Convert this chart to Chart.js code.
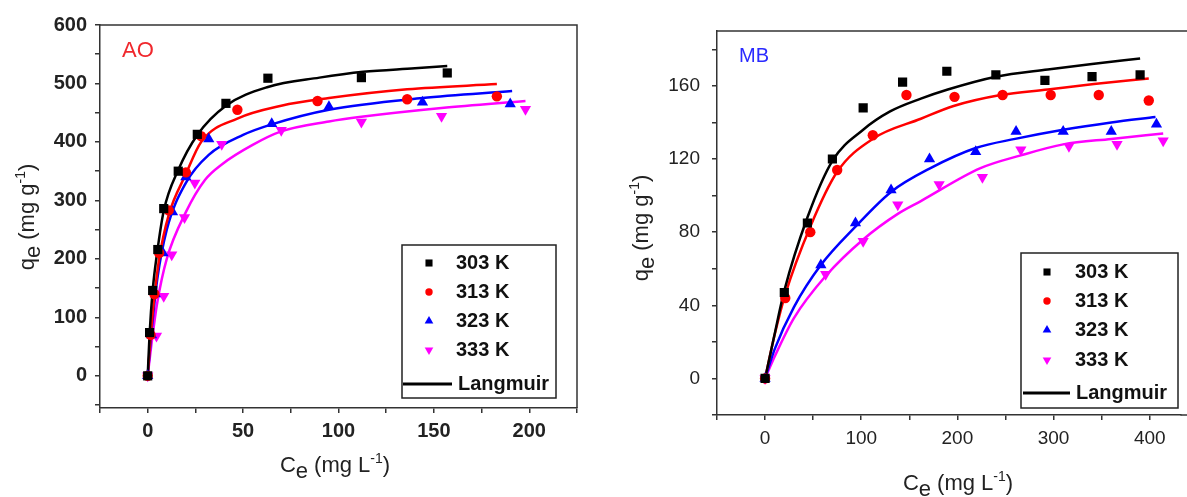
<!DOCTYPE html>
<html lang="en">
  <head>
    <meta charset="UTF-8" />
    <title>Langmuir isotherms - AO and MB</title>
    <script src="https://cdn.jsdelivr.net/npm/chart.js"></script>
    <style>
      body { margin: 0; background: #fff; }
      .wrap { position: relative; width: 1187px; height: 497px; overflow: hidden; }
      .wrap canvas { position: absolute; top: 0; }
    </style>
  </head>
  <body>
    <div class="wrap">
      <canvas id="chartAO" width="590" height="497" style="left: 0"></canvas>
      <canvas id="chartMB" width="597" height="497" style="left: 590px"></canvas>
    </div>

    <script>
      const temps = ["303 K", "313 K", "323 K", "333 K"];

      // AO: measured points [Ce, qe]
      const aoPts303 = [[0, 0], [1, 74], [2.6, 146], [5.3, 216], [8.4, 286], [16, 350], [26, 413], [41, 466], [63, 509], [112, 510], [157, 518]];
      const aoPts313 = [[0, 0], [1.5, 70], [3.5, 140], [6, 210], [11, 283], [20, 348], [28, 410], [47, 455], [89, 470], [136, 473], [183, 478]];
      const aoPts323 = [[0, 0], [2, 70], [4, 140], [8, 210], [13, 280], [20, 340], [32, 405], [65, 431], [95, 460], [144, 468], [190, 465]];
      const aoPts333 = [[0, 0], [4.6, 68], [8.4, 136], [12.6, 207], [19.3, 271], [24.7, 330], [38.8, 396], [70, 420], [112, 434], [154, 444], [198, 456]];
      // AO: Langmuir curves
      const aoFit303 = [[0, 0], [1, 72], [2.6, 146], [5, 212], [8.4, 282], [16, 352], [26, 412], [41, 462], [63, 494], [90, 510], [113, 520], [140, 526], [157, 530]];
      const aoFit313 = [[0, 0], [1.5, 65], [3.5, 135], [6, 200], [11, 275], [20, 345], [28, 400], [47, 440], [70, 462], [95, 475], [136, 490], [183, 499]];
      const aoFit323 = [[0, 0], [2, 75], [5, 165], [10, 250], [20, 330], [32, 378], [50, 412], [65, 430], [95, 455], [144, 475], [191, 487]];
      const aoFit333 = [[0, 0], [2, 55], [5, 125], [10, 200], [20, 280], [30, 335], [39, 362], [55, 395], [70, 418], [95, 435], [112, 443], [154, 458], [198, 470]];

      // MB: measured points
      const mbPts303 = [[0, 0], [20, 47], [44, 85], [70, 120], [102, 148], [143, 162], [189, 168], [240, 166], [291, 163], [340, 165], [390, 166]];
      const mbPts313 = [[0, 0], [21, 44], [47, 80], [75, 114], [112, 133], [147, 155], [197, 154], [247, 155], [297, 155], [347, 155], [399, 152]];
      const mbPts323 = [[0, 0], [58, 62], [94, 85], [131, 103], [171, 120], [219, 124], [261, 135], [310, 135], [360, 135], [407, 139]];
      const mbPts333 = [[0, 0], [63, 57], [102, 75], [138, 95], [181, 106], [226, 110], [266, 125], [316, 127], [366, 128], [414, 130]];
      // MB: Langmuir curves
      const mbFit303 = [[0, 0], [9, 22], [20, 48], [44, 88], [70, 119], [102, 136], [130, 146], [162, 153], [190, 158], [240, 165], [294, 169], [340, 172], [390, 175]];
      const mbFit313 = [[0, 0], [10, 24], [21, 46], [47, 83], [75, 113], [112, 131], [162, 142], [196, 149], [245, 155], [294, 158], [342, 161], [399, 164]];
      const mbFit323 = [[0, 0], [10, 16], [30, 39], [58, 62], [94, 83], [131, 102], [172, 115], [219, 126], [260, 131], [310, 136], [360, 140], [406, 143]];
      const mbFit333 = [[0, 0], [10, 12], [30, 33], [63, 56], [102, 76], [138, 90], [162, 97], [224, 115], [266, 122], [310, 128], [360, 131], [414, 134]];

      const colors = ["#000000", "#ff0000", "#0000ff", "#ff00ff"];
      const marks = ["rect", "circle", "triangle", "triangle"];
      const markRot = [0, 0, 0, 180];
      const markSize = [6.5, 5.2, 6.5, 6.5];
      const FONT = "'Liberation Sans', Arial, sans-serif";

      function buildSets(pts, fits) {
        const sets = [];
        temps.forEach((t, i) => {
          sets.push({
            label: t,
            data: pts[i].map(([x, y]) => ({ x, y })),
            pointStyle: marks[i],
            rotation: markRot[i],
            pointRadius: markSize[i],
            backgroundColor: colors[i],
            borderColor: colors[i],
            borderWidth: 0,
            showLine: false,
            order: 1,
          });
          sets.push({
            label: t + " Langmuir",
            data: fits[i].map(([x, y]) => ({ x, y })),
            showLine: true,
            borderColor: colors[i],
            borderWidth: 2.5,
            pointRadius: 0,
            cubicInterpolationMode: "monotone",
            order: 2,
          });
        });
        return sets;
      }

      // text with subscript / superscript pieces
      function drawRich(ctx, parts, x, y, angle) {
        ctx.save();
        ctx.translate(x, y);
        ctx.rotate(angle);
        ctx.textAlign = "left";
        ctx.textBaseline = "alphabetic";
        let w = 0;
        parts.forEach((p) => {
          ctx.font = p.font;
          w += ctx.measureText(p.t).width;
        });
        let cx = -w / 2;
        parts.forEach((p) => {
          ctx.font = p.font;
          ctx.fillText(p.t, cx, p.dy || 0);
          cx += ctx.measureText(p.t).width;
        });
        ctx.restore();
      }

      const big = "22px " + FONT;
      const small = "14px " + FONT;
      const qTitle = [
        { t: "q", font: big },
        { t: "e", font: big, dy: 6 },
        { t: " (mg g", font: big },
        { t: "-1", font: small, dy: -9 },
        { t: ")", font: big },
      ];
      const cTitle = [
        { t: "C", font: big },
        { t: "e", font: big, dy: 6 },
        { t: " (mg L", font: big },
        { t: "-1", font: small, dy: -9 },
        { t: ")", font: big },
      ];

      const framePlugin = {
        id: "frame",
        afterDraw(chart, args, o) {
          const { ctx, chartArea: a } = chart;
          ctx.save();
          ctx.strokeStyle = "#333";
          ctx.lineWidth = 1.5;
          ctx.beginPath();
          ctx.moveTo(a.left, a.top);
          ctx.lineTo(o.openRight ? chart.width : a.right, a.top);
          if (!o.openRight) ctx.lineTo(a.right, a.bottom);
          ctx.stroke();
          if (o.openRight) {
            ctx.beginPath();
            ctx.moveTo(a.right, a.bottom);
            ctx.lineTo(chart.width, a.bottom);
            ctx.stroke();
          }

          ctx.fillStyle = o.tagColor;
          ctx.font = o.tagFont;
          ctx.textBaseline = "alphabetic";
          ctx.fillText(o.tag, o.tagX, o.tagY);

          ctx.fillStyle = "#222";
          drawRich(ctx, qTitle, o.yTitle[0], o.yTitle[1], -Math.PI / 2);
          drawRich(ctx, cTitle, o.xTitle[0], o.xTitle[1], 0);

          // legend box
          const L = o.legend;
          ctx.fillStyle = "#fff";
          ctx.fillRect(L.x, L.y, L.w, L.h);
          ctx.strokeStyle = "#222";
          ctx.lineWidth = 1.5;
          ctx.strokeRect(L.x, L.y, L.w, L.h);
          ctx.font = "bold 20px " + FONT;
          ctx.textBaseline = "middle";
          temps.forEach((t, i) => {
            ctx.fillStyle = colors[i];
            Chart.helpers.drawPoint(ctx, { pointStyle: marks[i], rotation: markRot[i], radius: markSize[i] - 1.5, borderWidth: 0 }, L.markX, L.rows[i]);
            ctx.fillStyle = "#111";
            ctx.fillText(t, L.textX, L.rows[i]);
          });
          ctx.strokeStyle = "#000";
          ctx.lineWidth = 3;
          ctx.beginPath();
          ctx.moveTo(L.lineX[0], L.lineY);
          ctx.lineTo(L.lineX[1], L.lineY);
          ctx.stroke();
          ctx.fillStyle = "#111";
          ctx.fillText("Langmuir", L.langX, L.lineY);
          ctx.restore();
        },
      };

      function axis(min, max, step, labelEvery, size, fixed, tickFont, pad) {
        return {
          type: "linear",
          min: min,
          max: max,
          grid: { display: true, drawOnChartArea: false, drawTicks: true, tickLength: 5, color: "#333", lineWidth: 1.5 },
          border: { display: true, color: "#333", width: 1.5 },
          ticks: {
            stepSize: step,
            includeBounds: false,
            padding: pad,
            color: "#222",
            font: tickFont,
            callback: (v) => (Math.abs(v % labelEvery) < 1e-9 ? v : ""),
          },
          afterFit: (s) => {
            if (size === "w") s.width = fixed;
            else s.height = fixed;
          },
        };
      }

      const baseOpts = {
        responsive: false,
        animation: false,
        events: [],
        plugins: { legend: { display: false }, tooltip: { enabled: false } },
      };

      new Chart(document.getElementById("chartAO"), {
        type: "scatter",
        data: { datasets: buildSets([aoPts303, aoPts313, aoPts323, aoPts333], [aoFit303, aoFit313, aoFit323, aoFit333]) },
        options: {
          ...baseOpts,
          layout: { padding: { top: 25, right: 13, left: 0, bottom: 0 } },
          scales: {
            x: axis(-25, 225, 25, 50, "h", 89, { family: FONT, size: 20, weight: "bold" }, 6),
            y: axis(-55, 600, 50, 100, "w", 100, { family: FONT, size: 20, weight: "bold" }, 8),
          },
          plugins: {
            ...baseOpts.plugins,
            frame: {
              tag: "AO", tagColor: "#f0282d", tagFont: "22px " + FONT, tagX: 122, tagY: 57,
              yTitle: [34, 217], xTitle: [335, 472],
              legend: { x: 402, y: 245, w: 154, h: 153, markX: 429, textX: 456, rows: [263, 292, 321, 350], lineY: 384, lineX: [403, 452], langX: 458 },
            },
          },
        },
        plugins: [framePlugin],
      });

      new Chart(document.getElementById("chartMB"), {
        type: "scatter",
        data: { datasets: buildSets([mbPts303, mbPts313, mbPts323, mbPts333], [mbFit303, mbFit313, mbFit323, mbFit333]) },
        options: {
          ...baseOpts,
          layout: { padding: { top: 31, right: 0, left: 0, bottom: 0 } },
          scales: {
            x: axis(-50, 432, 50, 100, "h", 82, { family: FONT, size: 19 }, 7),
            y: axis(-20, 190, 20, 40, "w", 127, { family: FONT, size: 19 }, 12),
          },
          plugins: {
            ...baseOpts.plugins,
            frame: {
              openRight: true,
              tag: "MB", tagColor: "#2a2aff", tagFont: "20px " + FONT, tagX: 149, tagY: 62,
              yTitle: [58, 228], xTitle: [368, 490],
              legend: { x: 431, y: 253, w: 157, h: 155, markX: 457, textX: 485, rows: [272, 301, 330, 360], lineY: 393, lineX: [433, 480], langX: 486 },
            },
          },
        },
        plugins: [framePlugin],
      });
    </script>
  </body>
</html>
